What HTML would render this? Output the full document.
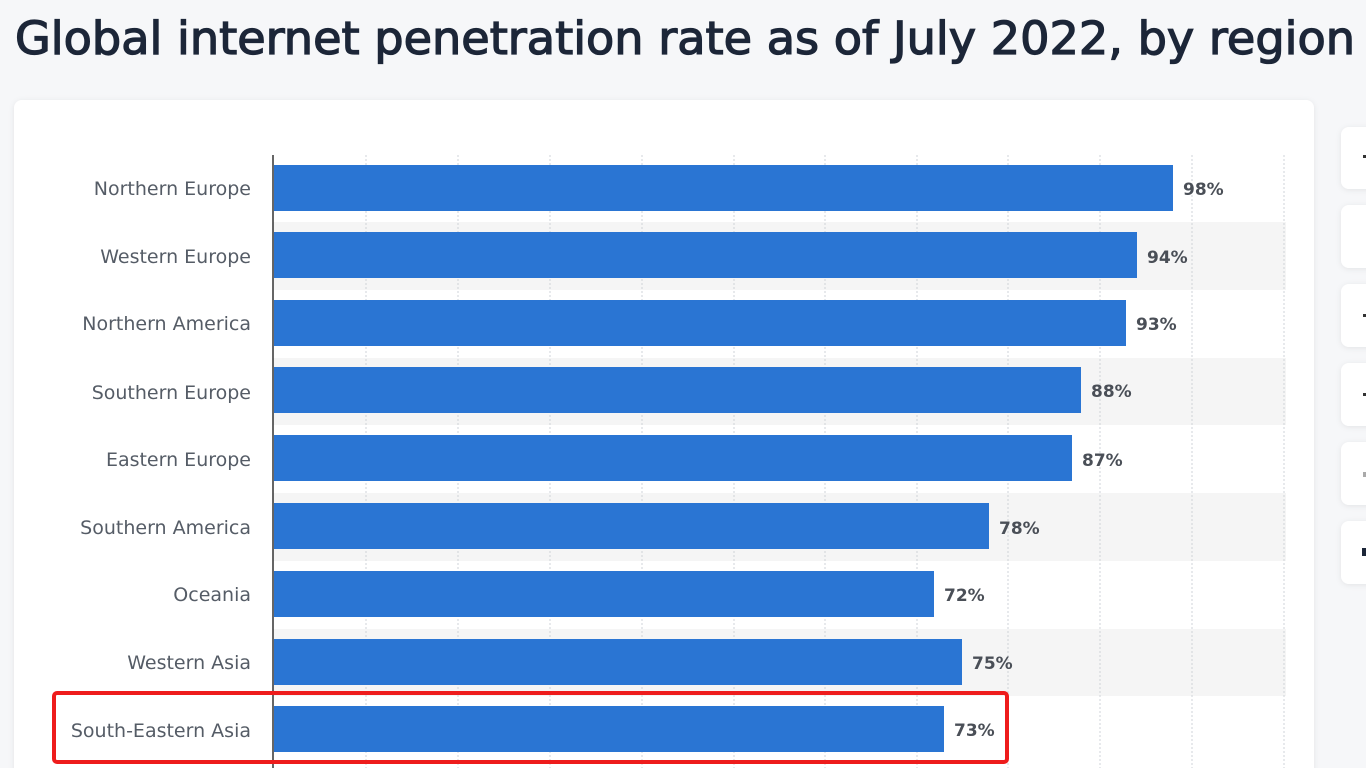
<!DOCTYPE html>
<html><head><meta charset="utf-8"><style>
html,body{margin:0;padding:0;width:1366px;height:768px;overflow:hidden;background:#f6f7f9;font-family:"DejaVu Sans","Liberation Sans",sans-serif}
</style></head><body>
<svg width="1366" height="768" xmlns="http://www.w3.org/2000/svg" style="position:absolute;left:0;top:0">
<defs><filter id="sh" x="-20%" y="-20%" width="140%" height="140%"><feDropShadow dx="0" dy="1" stdDeviation="3" flood-color="#000" flood-opacity="0.08"/></filter></defs>
<text x="15" y="54" font-family="DejaVu Sans, sans-serif" font-size="45" fill="#1c2638" stroke="#1c2638" stroke-width="1.3" textLength="1340" lengthAdjust="spacingAndGlyphs">Global internet penetration rate as of July 2022, by region</text>
<rect x="14" y="100" width="1300" height="700" rx="8" fill="#fff" filter="url(#sh)"/>
<g fill="#f5f5f5">
<rect x="273" y="222" width="1013" height="68"/>
<rect x="273" y="358" width="1013" height="67"/>
<rect x="273" y="493" width="1013" height="68"/>
<rect x="273" y="629" width="1013" height="67"/>
</g>
<g stroke="#cfd3d8" stroke-width="1" stroke-dasharray="2,2">
<line x1="366" y1="155" x2="366" y2="768"/><line x1="458" y1="155" x2="458" y2="768"/><line x1="550" y1="155" x2="550" y2="768"/><line x1="642" y1="155" x2="642" y2="768"/><line x1="734" y1="155" x2="734" y2="768"/><line x1="825" y1="155" x2="825" y2="768"/><line x1="917" y1="155" x2="917" y2="768"/><line x1="1008" y1="155" x2="1008" y2="768"/><line x1="1100" y1="155" x2="1100" y2="768"/><line x1="1192" y1="155" x2="1192" y2="768"/><line x1="1284" y1="155" x2="1284" y2="768"/>
</g>
<g fill="#2a75d3">
<rect x="274" y="165" width="899" height="46"/>
<rect x="274" y="232" width="863" height="46"/>
<rect x="274" y="300" width="852" height="46"/>
<rect x="274" y="367" width="807" height="46"/>
<rect x="274" y="435" width="798" height="46"/>
<rect x="274" y="503" width="715" height="46"/>
<rect x="274" y="571" width="660" height="46"/>
<rect x="274" y="639" width="688" height="46"/>
<rect x="274" y="706" width="670" height="46"/>
</g>
<line x1="273" y1="155" x2="273" y2="768" stroke="#333" stroke-width="1.5"/>
<g font-size="19" fill="#555c66" text-anchor="end">
<text x="251" y="195">Northern Europe</text>
<text x="251" y="263">Western Europe</text>
<text x="251" y="330">Northern America</text>
<text x="251" y="399">Southern Europe</text>
<text x="251" y="466">Eastern Europe</text>
<text x="251" y="534">Southern America</text>
<text x="251" y="601">Oceania</text>
<text x="251" y="669">Western Asia</text>
<text x="251" y="737">South-Eastern Asia</text>
</g>
<g font-size="17" font-weight="bold" fill="#4a4f57">
<text x="1183" y="195">98%</text>
<text x="1147" y="263">94%</text>
<text x="1136" y="330">93%</text>
<text x="1091" y="397">88%</text>
<text x="1082" y="466">87%</text>
<text x="999" y="534">78%</text>
<text x="944" y="601">72%</text>
<text x="972" y="669">75%</text>
<text x="954" y="736">73%</text>
</g>
<rect x="54" y="693" width="953" height="69" fill="none" stroke="#ee1c1c" stroke-width="4" rx="3"/>
<g fill="#fff" filter="url(#sh)">
<rect x="1341" y="127" width="40" height="62" rx="8"/>
<rect x="1341" y="205" width="40" height="63" rx="8"/>
<rect x="1341" y="284" width="40" height="63" rx="8"/>
<rect x="1341" y="363" width="40" height="63" rx="8"/>
<rect x="1341" y="442" width="40" height="63" rx="8"/>
<rect x="1341" y="521" width="40" height="63" rx="8"/>
</g>
<g fill="#333"><rect x="1363" y="155" width="3" height="3"/><rect x="1363" y="314" width="3" height="3"/><rect x="1363" y="393" width="3" height="3"/><rect x="1363" y="472" width="3" height="5" fill="#aaa"/><rect x="1362" y="548" width="4" height="8" fill="#1c2638"/></g>
</svg>
</body></html>
